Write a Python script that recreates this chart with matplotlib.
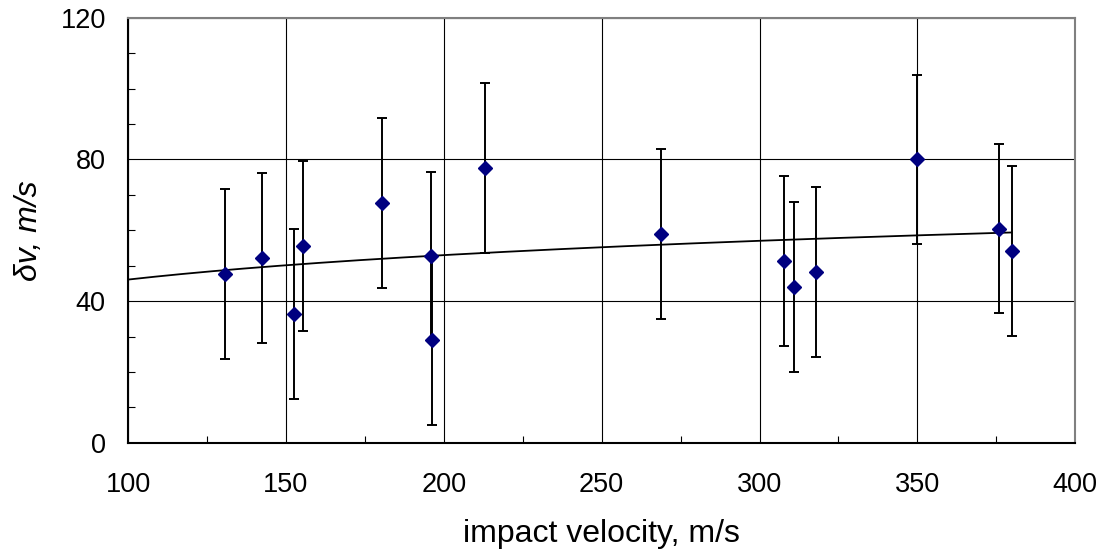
import matplotlib.pyplot as plt
import numpy as np
from matplotlib.ticker import MultipleLocator

plt.rcParams['font.family'] = ['Liberation Sans', 'DejaVu Sans']

# impact velocity (m/s) and velocity spread dv (m/s)
velocity = [130.8, 142.3, 152.4, 155.4, 180.5, 196.1, 196.2, 212.9,
            268.8, 307.8, 310.8, 317.8, 349.8, 375.7, 379.8]
dv = [47.6, 52.1, 36.4, 55.5, 67.8, 52.6, 28.9, 77.5,
      59.0, 51.4, 44.0, 48.3, 80.0, 60.5, 54.1]
dv_err = [24] * len(dv)

fig = plt.figure(figsize=(11.04, 5.58), dpi=100)
ax = fig.add_axes([0.116, 0.2066, 0.858, 0.7614])

# logarithmic trendline, from 100 up to the last point
k, c = np.polyfit(np.log(velocity), dv, 1)
xf = np.linspace(100, max(velocity), 200)
ax.plot(xf, k * np.log(xf) + c, color='black', lw=1.3, zorder=3)

ax.errorbar(velocity, dv, yerr=dv_err, fmt='none', ecolor='black',
            elinewidth=1.4, capsize=3.6, capthick=1.4, zorder=4)
ax.plot(velocity, dv, 'D', color='#000080', ms=7.5, mec='#000080', zorder=5, ls='none')

ax.set_xlim(100, 400)
ax.set_ylim(0, 120)
ax.xaxis.set_major_locator(MultipleLocator(50))
ax.xaxis.set_minor_locator(MultipleLocator(25))
ax.yaxis.set_major_locator(MultipleLocator(40))
ax.yaxis.set_minor_locator(MultipleLocator(10))
ax.grid(True, which='major', color='black', lw=0.8)
ax.set_axisbelow(True)

ax.tick_params(which='major', direction='in', length=0, labelsize=19.5)
ax.tick_params(axis='x', which='major', pad=21)
ax.tick_params(axis='y', which='major', pad=16)
ax.tick_params(which='minor', direction='in', length=5, width=0.8, color='black')

for s in ['top', 'right']:
    ax.spines[s].set_color('#808080')
    ax.spines[s].set_linewidth(1.5)
for s in ['left', 'bottom']:
    ax.spines[s].set_color('black')
    ax.spines[s].set_linewidth(1.5)

ax.set_xlabel('impact velocity, m/s', fontsize=23, labelpad=15)
ax.set_ylabel('δv, m/s', fontsize=23, style='italic', labelpad=12)

fig.savefig('out.png', dpi=100)
